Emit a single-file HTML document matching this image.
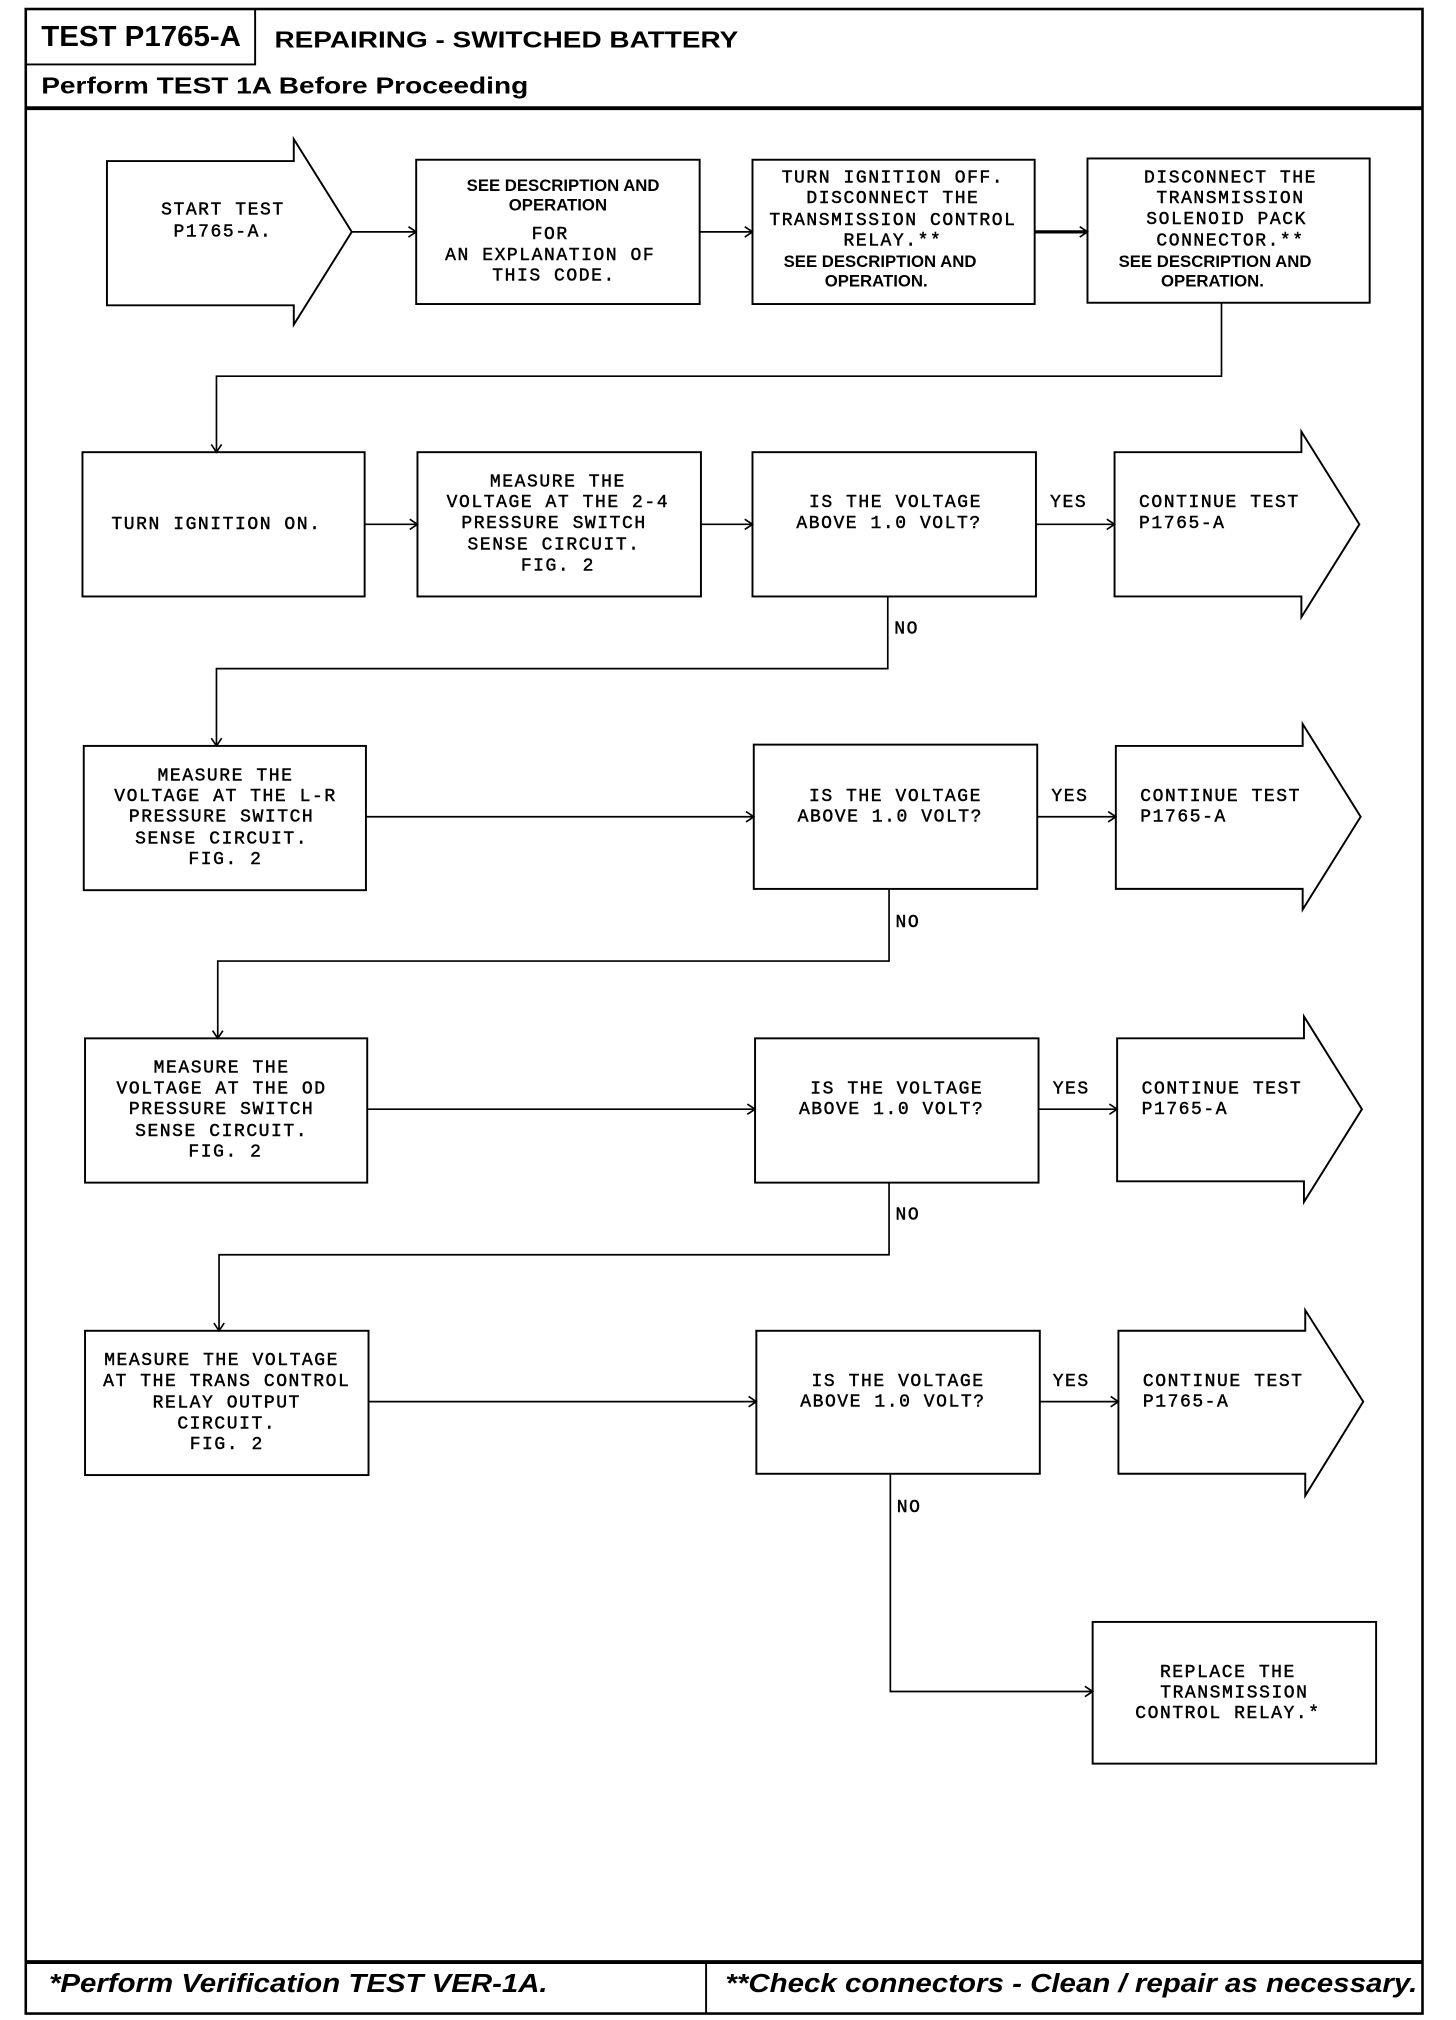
<!DOCTYPE html>
<html><head><meta charset="utf-8"><style>
html,body{margin:0;padding:0;background:#fff}
svg{display:block}
.m{font-family:"Liberation Mono",monospace;font-size:14px;letter-spacing:1.2px;fill:#000;stroke:#000;stroke-width:0.35px}
.s{font-family:"Liberation Sans",sans-serif;font-weight:bold;font-size:13px;fill:#000}
</style></head><body>
<svg width="1456" height="2020" viewBox="0 0 1130 1568" preserveAspectRatio="none" xmlns="http://www.w3.org/2000/svg">
<defs><marker id="a" markerWidth="10" markerHeight="10" refX="9" refY="5" orient="auto" markerUnits="userSpaceOnUse"><polyline points="3,1 9,5 3,9" fill="none" stroke="#000" stroke-width="1.3"/></marker></defs>
<g fill="none" stroke="#000">
<rect x="20" y="7" width="1084" height="1556" stroke-width="2"/>
<line x1="20" y1="84" x2="1104" y2="84" stroke-width="3"/>
<polyline points="20,50 198,50 198,7" stroke-width="1.5"/>
<line x1="20" y1="1523" x2="1104" y2="1523" stroke-width="3"/>
<line x1="548" y1="1523" x2="548" y2="1563" stroke-width="1.5"/>
<g stroke-width="1.5">
<polygon points="83,125 228,125 228,108 273,180 228,252 228,237 83,237"/>
<rect x="323" y="124" width="220" height="112"/>
<rect x="584" y="124" width="219" height="112"/>
<rect x="844" y="123" width="219" height="112"/>
<rect x="64" y="351" width="219" height="112"/>
<rect x="324" y="351" width="220" height="112"/>
<rect x="584" y="351" width="220" height="112"/>
<polygon points="865,351 1010,351 1010,335 1055,407 1010,479 1010,463 865,463"/>
<rect x="65" y="579" width="219" height="112"/>
<rect x="585" y="578" width="220" height="112"/>
<polygon points="866,579 1011,579 1011,562 1056,634 1011,706 1011,690 866,690"/>
<rect x="66" y="806" width="219" height="112"/>
<rect x="586" y="806" width="220" height="112"/>
<polygon points="867,806 1012,806 1012,789 1057,861 1012,933 1012,917 867,917"/>
<rect x="66" y="1033" width="220" height="112"/>
<rect x="587" y="1033" width="220" height="111"/>
<polygon points="868,1033 1013,1033 1013,1017 1058,1088 1013,1161 1013,1144 868,1144"/>
<rect x="848" y="1259" width="220" height="110"/>
</g>
<g stroke-width="1.3" marker-end="url(#a)">
<line x1="273" y1="180" x2="323" y2="180"/>
<line x1="543" y1="180" x2="584" y2="180"/>
<line x1="803" y1="180" x2="844" y2="180" stroke-width="2.5"/>
<polyline points="948,235 948,292 168,292 168,351"/>
<line x1="283" y1="407" x2="324" y2="407"/>
<line x1="544" y1="407" x2="584" y2="407"/>
<line x1="804" y1="407" x2="865" y2="407"/>
<polyline points="689,463 689,519 168,519 168,579"/>
<line x1="284" y1="634" x2="585" y2="634"/>
<line x1="805" y1="634" x2="866" y2="634"/>
<polyline points="690,690 690,746 169,746 169,806"/>
<line x1="285" y1="861" x2="586" y2="861"/>
<line x1="806" y1="861" x2="867" y2="861"/>
<polyline points="690,918 690,974 170,974 170,1033"/>
<line x1="286" y1="1088" x2="587" y2="1088"/>
<line x1="807" y1="1088" x2="868" y2="1088"/>
<polyline points="691,1144 691,1313 848,1313"/>
</g>
</g>
<g font-family="Liberation Sans,sans-serif" font-weight="bold" fill="#000" dominant-baseline="middle">
<text x="32" y="30" font-size="22" textLength="155" lengthAdjust="spacingAndGlyphs">TEST P1765-A</text>
<text x="213" y="32" font-size="18" textLength="360" lengthAdjust="spacingAndGlyphs">REPAIRING - SWITCHED BATTERY</text>
<text x="32" y="68" font-size="18" textLength="378" lengthAdjust="spacingAndGlyphs">Perform TEST 1A Before Proceeding</text>
<text x="38" y="1541" font-size="20" font-style="italic" textLength="387" lengthAdjust="spacingAndGlyphs">*Perform Verification TEST VER-1A.</text>
<text x="563" y="1541" font-size="20" font-style="italic" textLength="537" lengthAdjust="spacingAndGlyphs">**Check connectors - Clean / repair as necessary.</text>
</g>
<g dominant-baseline="middle" text-anchor="middle">
<text class="m" x="173" y="163">START TEST</text><text class="m" x="173" y="180">P1765-A.</text>
<text class="s" x="437" y="145">SEE  DESCRIPTION AND</text><text class="s" x="433" y="160">OPERATION</text>
<text class="m" x="427" y="182">FOR</text><text class="m" x="427" y="198">AN EXPLANATION OF</text><text class="m" x="430" y="214">THIS CODE.</text>
<text class="m" x="693" y="138">TURN IGNITION OFF.</text><text class="m" x="693" y="154">DISCONNECT THE</text><text class="m" x="693" y="171">TRANSMISSION CONTROL</text><text class="m" x="693" y="187">RELAY.**</text>
<text class="s" x="683" y="204">SEE  DESCRIPTION AND</text><text class="s" x="680" y="219">OPERATION.</text>
<text class="m" x="955" y="138">DISCONNECT THE</text><text class="m" x="955" y="154">TRANSMISSION</text><text class="m" x="952" y="170">SOLENOID PACK</text><text class="m" x="955" y="187">CONNECTOR.**</text>
<text class="s" x="943" y="204">SEE  DESCRIPTION AND</text><text class="s" x="941" y="219">OPERATION.</text>
<text class="m" x="168" y="407">TURN IGNITION ON.</text>
<text class="m" x="433" y="374">MEASURE THE</text><text class="m" x="433" y="390">VOLTAGE AT THE 2-4</text><text class="m" x="430" y="406">PRESSURE SWITCH</text><text class="m" x="430" y="423">SENSE CIRCUIT.</text><text class="m" x="433" y="439">FIG. 2</text>
<text class="m" x="175" y="602">MEASURE THE</text><text class="m" x="175" y="618">VOLTAGE AT THE L-R</text><text class="m" x="172" y="634">PRESSURE SWITCH</text><text class="m" x="172" y="651">SENSE CIRCUIT.</text><text class="m" x="175" y="667">FIG. 2</text>
<text class="m" x="172" y="829">MEASURE THE</text><text class="m" x="172" y="845">VOLTAGE AT THE OD</text><text class="m" x="172" y="861">PRESSURE SWITCH</text><text class="m" x="172" y="878">SENSE CIRCUIT.</text><text class="m" x="175" y="894">FIG. 2</text>
<text class="m" x="172" y="1056">MEASURE THE VOLTAGE</text><text class="m" x="176" y="1072">AT THE TRANS CONTROL</text><text class="m" x="176" y="1089">RELAY OUTPUT</text><text class="m" x="176" y="1105">CIRCUIT.</text><text class="m" x="176" y="1121">FIG. 2</text>
<text class="m" x="695" y="390">IS THE VOLTAGE</text><text class="m" x="690" y="406">ABOVE 1.0 VOLT?</text>
<text class="m" x="695" y="618">IS THE VOLTAGE</text><text class="m" x="691" y="634">ABOVE 1.0 VOLT?</text>
<text class="m" x="696" y="845">IS THE VOLTAGE</text><text class="m" x="692" y="861">ABOVE 1.0 VOLT?</text>
<text class="m" x="697" y="1072">IS THE VOLTAGE</text><text class="m" x="693" y="1088">ABOVE 1.0 VOLT?</text>
<text class="m" x="953" y="1298">REPLACE THE</text><text class="m" x="958" y="1314">TRANSMISSION</text><text class="m" x="953" y="1330">CONTROL RELAY.*</text>
</g>
<g dominant-baseline="middle">
<text class="m" x="815" y="390">YES</text><text class="m" x="816" y="618">YES</text><text class="m" x="817" y="845">YES</text><text class="m" x="817" y="1072">YES</text>
<text class="m" x="694" y="488">NO</text><text class="m" x="695" y="716">NO</text><text class="m" x="695" y="943">NO</text><text class="m" x="696" y="1170">NO</text>
<text class="m" x="884" y="390">CONTINUE TEST</text><text class="m" x="884" y="406">P1765-A</text>
<text class="m" x="885" y="618">CONTINUE TEST</text><text class="m" x="885" y="634">P1765-A</text>
<text class="m" x="886" y="845">CONTINUE TEST</text><text class="m" x="886" y="861">P1765-A</text>
<text class="m" x="887" y="1072">CONTINUE TEST</text><text class="m" x="887" y="1088">P1765-A</text>
</g>
</svg>
</body></html>
